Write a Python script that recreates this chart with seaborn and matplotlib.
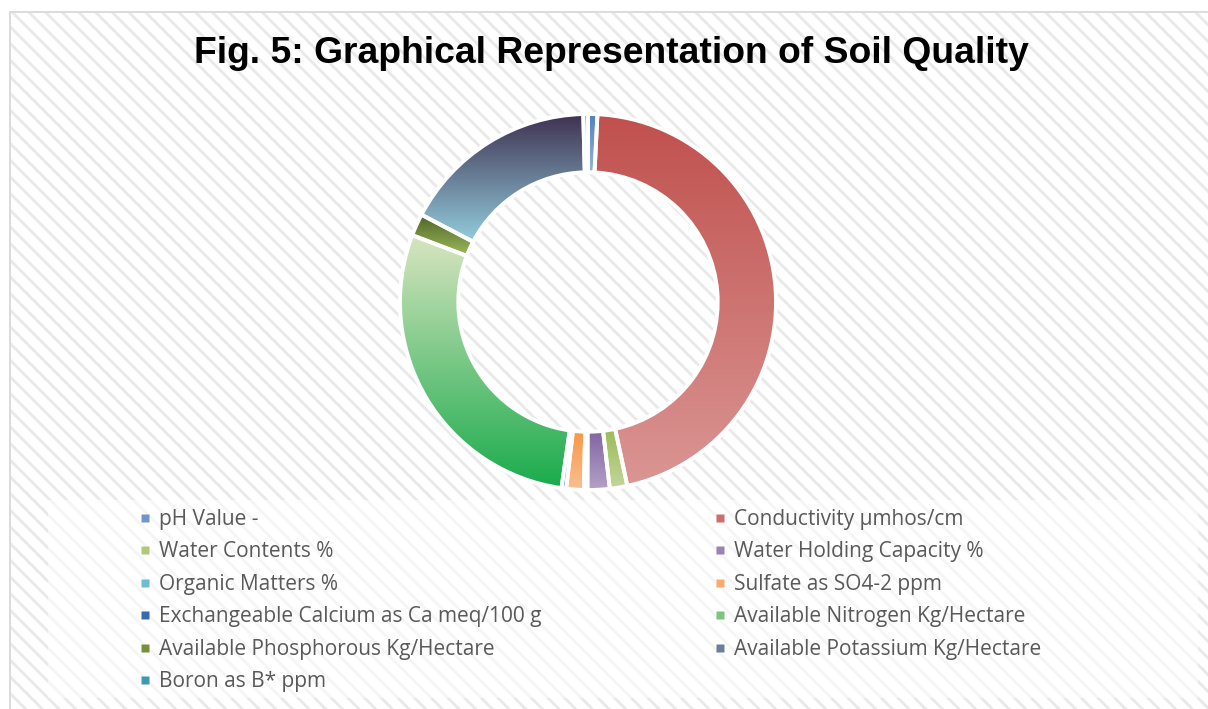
import numpy as np
import seaborn as sns
import matplotlib.pyplot as plt
from matplotlib.patches import Rectangle
from matplotlib.lines import Line2D
from matplotlib.colors import to_rgb

# Datos (proporción de cada parámetro en el anillo)
parametros = [
    'pH Value -',
    'Conductivity µmhos/cm',
    'Water Contents %',
    'Water Holding Capacity %',
    'Organic Matters %',
    'Sulfate as SO4-2 ppm',
    'Exchangeable Calcium as Ca meq/100 g',
    'Available Nitrogen Kg/Hectare',
    'Available Phosphorous Kg/Hectare',
    'Available Potassium Kg/Hectare',
    'Boron as B* ppm',
]
valores = [0.8, 45.8, 1.5, 1.9, 0.3, 1.5, 0.4, 28.5, 1.9, 16.9, 0.4]

# Colores degradados (arriba, abajo) estilo Excel
color_sup = ['#4F81BD', '#C0504D', '#9BBB59', '#8064A2', '#4BACC6', '#F79646',
             '#1F497D', '#D8E5C0', '#4F6228', '#3F3151', '#31859C']
color_inf = ['#95B3D7', '#DA9694', '#C3D69B', '#B3A2C7', '#92CDDC', '#FAC090',
             '#558ED5', '#1AAB4C', '#9BBB59', '#93CDDD', '#4BACC6']
color_ley = ['#6F96C8', '#CB706D', '#AFC87A', '#9A83B5', '#6FBDD1', '#F8AB6B',
             '#3A6BA9', '#7CC57E', '#75903F', '#6A7F98', '#3E99B1']

sns.set_theme(style='white')
plt.rcParams['hatch.linewidth'] = 2.0

fig = plt.figure(figsize=(12.08, 7.09), dpi=100)
fig.patch.set_facecolor('white')

# Fondo con trama diagonal
fondo = Rectangle((10 / 1208, -0.01), 1.0, 1 - 12 / 709 + 0.01, transform=fig.transFigure,
                  facecolor='white', edgecolor='#E9E9E9', hatch='\\\\', linewidth=1.2, zorder=-3)
fig.patches.append(fondo)
borde = Rectangle((10 / 1208, -0.01), 1.0, 1 - 12 / 709 + 0.01, transform=fig.transFigure,
                  facecolor='none', edgecolor='#D9D9D9', linewidth=1.2, zorder=-2)
fig.patches.append(borde)

# Caja blanca de la leyenda
caja = Rectangle((48 / 1208, 11 / 709), 1150 / 1208, 198 / 709, transform=fig.transFigure,
                 facecolor='white', edgecolor='none', alpha=0.55, zorder=-1)
fig.patches.append(caja)

fig.text(0.506, 0.925, 'Fig. 5: Graphical Representation of Soil Quality',
         ha='center', va='center', fontsize=26.8, fontweight='bold',
         family='Liberation Sans', color='black')

ax = fig.add_axes([400 / 1208, (709 - 302 - 188) / 709, 376 / 1208, 376 / 709])
ax.set_zorder(2)
ax.patch.set_alpha(0)

wedges, _ = ax.pie(valores, radius=1, startangle=90, counterclock=False,
                   wedgeprops=dict(width=0.31, edgecolor='white', linewidth=2.8))

for w, c1, c2 in zip(wedges, color_sup, color_inf):
    ext = w.get_path().get_extents()
    t = np.linspace(0, 1, 256)[:, None]
    grad = (1 - t) * np.array(to_rgb(c1)) + t * np.array(to_rgb(c2))
    im = ax.imshow(grad[:, None, :], extent=(ext.x0, ext.x1, ext.y0, ext.y1),
                   origin='upper', aspect='auto', interpolation='bilinear', zorder=0.5)
    im.set_clip_path(w)
    w.set_facecolor('none')
    w.set_zorder(1)

ax.set_xlim(-1, 1)
ax.set_ylim(-1, 1)
ax.set_aspect('equal')
ax.axis('off')

# Leyenda en dos columnas
handles = [Line2D([], [], marker='s', linestyle='none', markersize=5.5,
                  markerfacecolor=c, markeredgecolor='none') for c in color_ley]
izq = list(range(0, len(parametros), 2))
der = list(range(1, len(parametros), 2))
estilo = dict(frameon=False, handlelength=0.5, handletextpad=0.4, labelspacing=0.55,
              borderpad=0, borderaxespad=0, prop={'family': 'Open Sans', 'size': 15},
              labelcolor='#595959')
ley1 = fig.legend([handles[i] for i in izq], [parametros[i] for i in izq],
                  loc='upper left', bbox_to_anchor=(140 / 1208, 1 - 509 / 709), **estilo)
ley2 = fig.legend([handles[i] for i in der], [parametros[i] for i in der],
                  loc='upper left', bbox_to_anchor=(715 / 1208, 1 - 509 / 709), **estilo)

fig.savefig('out.png', dpi=100)
